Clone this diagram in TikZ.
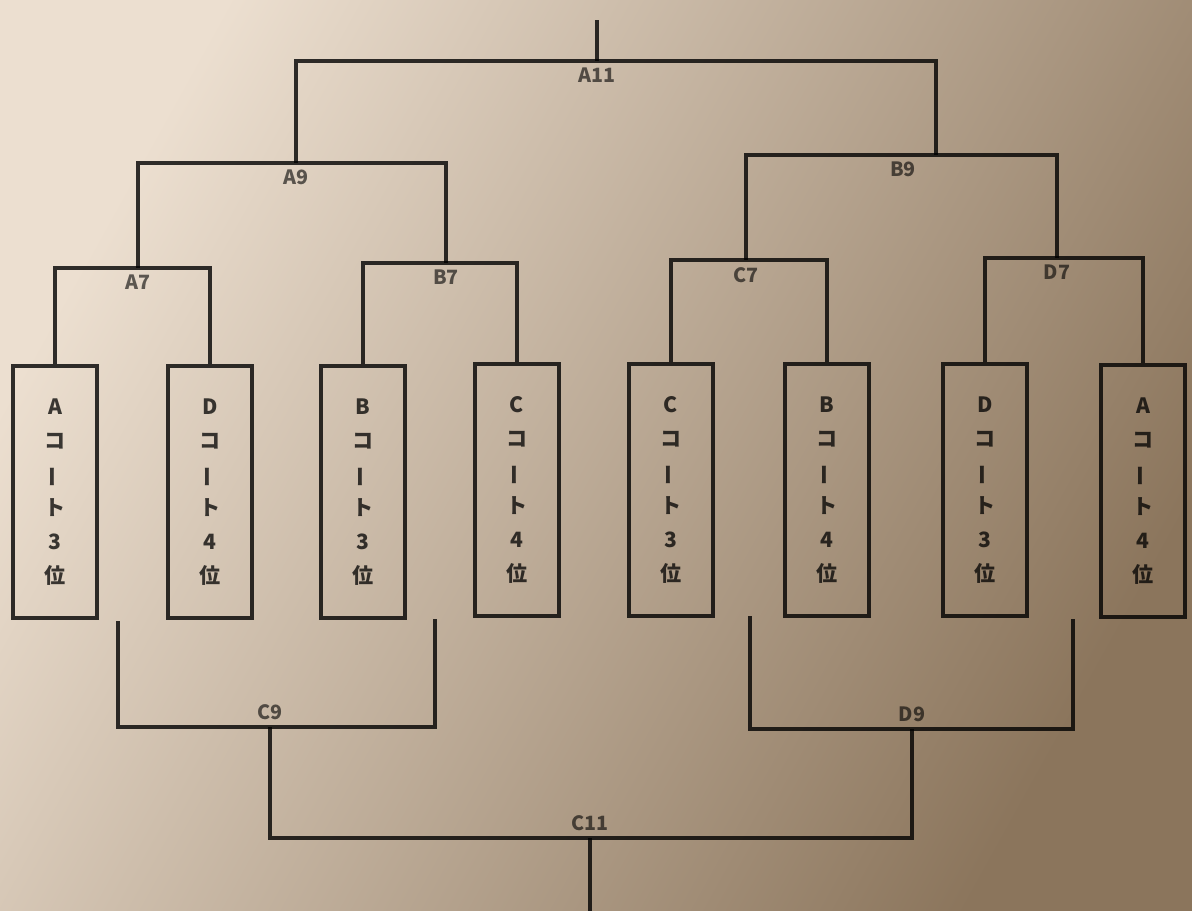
\documentclass[tikz,border=0pt]{standalone}
\usepackage{fontspec}
\setmainfont{Noto Sans CJK JP}

\definecolor{paperlight}{RGB}{236,223,208}
\definecolor{papermid}{RGB}{204,188,170}
\definecolor{paperdark}{RGB}{139,117,92}

\tikzset{
	bracket/.style={line width=2.6pt, draw=black, draw opacity=0.8},
	seat/.style={bracket, minimum width=2.1cm, minimum height=6.3cm, inner sep=0pt,
		align=center, text opacity=0.75, font=\bfseries\fontsize{15}{24}\selectfont},
	game/.style={inner sep=1pt, text opacity=0.6, font=\bfseries\fontsize{14}{14}\selectfont},
}
\newcommand{\chouon}{\rotatebox[origin=c]{90}{ー}}

\begin{document}
\begin{tikzpicture}[x=0.025cm, y=-0.025cm]
		\useasboundingbox (0,0) rectangle (1192,911);
		\shade[top color=paperlight, middle color=papermid, bottom color=paperdark,
		shading angle=61] (0,0) rectangle (1192,911);
		
		% seats
		\node[seat] (a3) at (55,492) {A\\コ\\\chouon\\ト\\3\\位};
		\node[seat] (d4) at (210,492) {D\\コ\\\chouon\\ト\\4\\位};
		\node[seat] (b3) at (363,492) {B\\コ\\\chouon\\ト\\3\\位};
		\node[seat] (c4) at (517,490) {C\\コ\\\chouon\\ト\\4\\位};
		\node[seat] (c3) at (671,490) {C\\コ\\\chouon\\ト\\3\\位};
		\node[seat] (b4) at (827,490) {B\\コ\\\chouon\\ト\\4\\位};
		\node[seat] (d3) at (985,490) {D\\コ\\\chouon\\ト\\3\\位};
		\node[seat] (a4) at (1143,491) {A\\コ\\\chouon\\ト\\4\\位};
		
		% upper bracket
		\coordinate (a7) at (138,268);
		\coordinate (b7) at (446,263);
		\coordinate (c7) at (746,260);
		\coordinate (d7) at (1057,258);
		\coordinate (a9) at (296,163);
		\coordinate (b9) at (936,155);
		\coordinate (a11) at (597,61);
		\coordinate (top) at (597,20);
		
		\draw[bracket] (a3.north) |- (a7) -| (d4.north);
		\draw[bracket] (b3.north) |- (b7) -| (c4.north);
		\draw[bracket] (c3.north) |- (c7) -| (b4.north);
		\draw[bracket] (d3.north) |- (d7) -| (a4.north);
		\draw[bracket] (a7) |- (a9) -| (b7);
		\draw[bracket] (c7) |- (b9) -| (d7);
		\draw[bracket] (a9) |- (a11) -| (b9);
		\draw[bracket] (a11) -- (top);
		
		\node[game, below=4pt] (la7) at (a7) {A7};
		\node[game, below=4pt] (lb7) at (b7) {B7};
		\node[game, below=4pt] (lc7) at (c7) {C7};
		\node[game, below=4pt] (ld7) at (d7) {D7};
		\node[game, below=4pt] (la9) at (a9) {A9};
		\node[game, below=4pt] (lb9) at (903,155) {B9};
		\node[game, below=4pt] (la11) at (a11) {A11};
		
		% lower bracket
		\coordinate (c9l) at (118,621);
		\coordinate (c9r) at (435,619);
		\coordinate (d9l) at (750,616);
		\coordinate (d9r) at (1073,619);
		\coordinate (c9) at (270,727);
		\coordinate (d9) at (912,729);
		\coordinate (c11) at (590,838);
		\coordinate (bottom) at (590,915);
		
		\draw[bracket] (c9l) |- (c9) -| (c9r);
		\draw[bracket] (d9l) |- (d9) -| (d9r);
		\draw[bracket] (c9) |- (c11) -| (d9);
		\draw[bracket] (c11) -- (bottom);
		
		\node[game, above=4pt] (lc9) at (c9) {C9};
		\node[game, above=4pt] (ld9) at (d9) {D9};
		\node[game, above=4pt] (lc11) at (c11) {C11};
\end{tikzpicture}
\end{document}
